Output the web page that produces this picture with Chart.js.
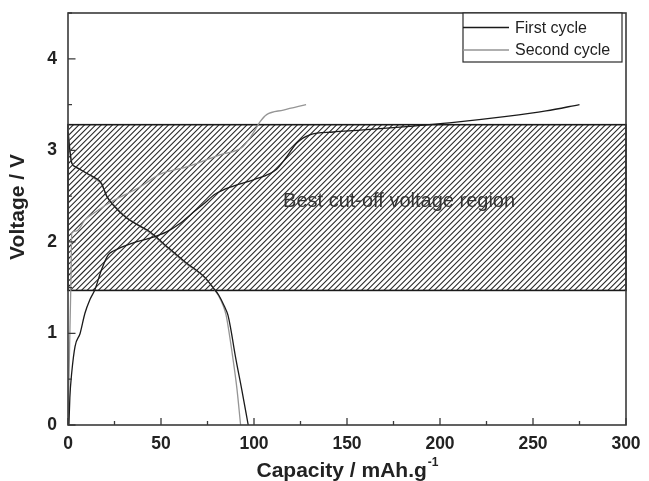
<!DOCTYPE html>
<html>
<head>
<meta charset="utf-8">
<script src="https://cdn.jsdelivr.net/npm/chart.js@4.4.1/dist/chart.umd.min.js"></script>
<style>
  html, body { margin: 0; padding: 0; background: #fff; }
  #wrap { width: 649px; height: 481px; position: relative; }
</style>
</head>
<body>
<div id="wrap"><canvas id="chart"></canvas></div>
<script>
// capacity (mAh/g), voltage (V)
const firstCharge = [
  [0.5, 0], [1, 0.3], [2, 0.57], [3.8, 0.86], [6.5, 1.0], [9.1, 1.22], [11.8, 1.37],
  [14.5, 1.48], [18.1, 1.7], [21.7, 1.86], [24.4, 1.9], [35.1, 1.99], [44, 2.04],
  [53, 2.11], [60.2, 2.2], [66, 2.3], [72.7, 2.41], [79, 2.52], [88.9, 2.61],
  [100, 2.68], [112, 2.79], [117.6, 2.93], [123, 3.08], [130, 3.17], [142.6, 3.2],
  [157, 3.22], [182, 3.26], [205, 3.3], [235.8, 3.37], [257, 3.43], [275, 3.5]
];
const firstDischarge = [
  [0, 3.2], [1, 3.0], [2, 2.86], [4, 2.82], [6.5, 2.79], [10, 2.75], [13.6, 2.71],
  [18, 2.64], [20.8, 2.5], [24.4, 2.4], [31.5, 2.26], [38, 2.18], [44, 2.11],
  [52, 1.97], [63, 1.78], [73.7, 1.61], [78, 1.5], [81, 1.42], [84, 1.3],
  [86, 1.2], [87.5, 1.05], [90, 0.75], [93.4, 0.39], [96.9, 0]
];
const secondCharge = [
  [0, 0], [0.6, 0.6], [1.2, 1.2], [1.6, 1.6], [2, 2.1], [4.7, 2.12], [9.1, 2.24],
  [15, 2.33], [22.6, 2.43], [38.7, 2.6], [49.5, 2.74], [63.8, 2.82], [71, 2.87],
  [81.7, 2.95], [94, 3.04], [99.6, 3.19], [103.2, 3.31], [106.8, 3.39],
  [115.8, 3.44], [128, 3.5]
];
const secondDischarge = [
  [0, 3.25], [1, 3.0], [2, 2.87], [4, 2.82], [6.5, 2.79], [10, 2.75], [13.6, 2.7],
  [18, 2.63], [20.8, 2.5], [24.4, 2.41], [31.5, 2.27], [38, 2.18], [44, 2.1],
  [52, 1.96], [63, 1.77], [73, 1.62], [78, 1.5], [81, 1.41], [83.5, 1.3],
  [85, 1.2], [86.3, 1.05], [88.5, 0.75], [90.8, 0.4], [92.8, 0]
];
const seriesNames = ['First cycle', 'Second cycle'];
const seriesColors = ['#1a1a1a', '#959595'];
const cutoffRegion = [1.47, 3.28];
const regionLabel = 'Best cut-off voltage region';
const regionLabelAt = [178, 2.385];

const xTitle = 'Capacity / mAh.g';
const xTitleSup = '-1';
const yTitle = 'Voltage / V';

const FONT = '"Liberation Sans", Arial, sans-serif';
const toXY = arr => arr.map(p => ({ x: p[0], y: p[1] }));

function lineSet(label, data, color) {
  return {
    label: label,
    data: toXY(data),
    borderColor: color,
    backgroundColor: color,
    borderWidth: 1.3,
    pointRadius: 0,
    cubicInterpolationMode: 'monotone',
    fill: false
  };
}

// hatched region, box, ticks, legend and axis titles
const decorations = {
  id: 'decorations',
  beforeDatasetsDraw(chart) {
    const { ctx, chartArea: a, scales: { x, y } } = chart;
    const top = y.getPixelForValue(cutoffRegion[1]);
    const bot = y.getPixelForValue(cutoffRegion[0]);
    ctx.save();
    ctx.beginPath();
    ctx.rect(a.left, top, a.right - a.left, bot - top);
    ctx.clip();
    ctx.strokeStyle = '#2a2a2a';
    ctx.lineWidth = 1.1;
    const h = bot - top;
    const step = 5.6;
    ctx.beginPath();
    for (let sx = a.left - h; sx < a.right + step; sx += step) {
      ctx.moveTo(sx, bot);
      ctx.lineTo(sx + h, top);
    }
    ctx.stroke();
    ctx.restore();

    ctx.save();
    ctx.strokeStyle = '#1a1a1a';
    ctx.lineWidth = 1.6;
    ctx.strokeRect(a.left, top, a.right - a.left, bot - top);
    ctx.fillStyle = '#333';
    ctx.font = '20px ' + FONT;
    ctx.textAlign = 'center';
    ctx.textBaseline = 'alphabetic';
    ctx.fillText(regionLabel, x.getPixelForValue(regionLabelAt[0]), y.getPixelForValue(regionLabelAt[1]));
    ctx.restore();
  },
  afterDraw(chart) {
    const { ctx, chartArea: a, scales: { x, y } } = chart;
    ctx.save();
    // frame
    ctx.strokeStyle = '#3a3a3a';
    ctx.lineWidth = 1.6;
    ctx.strokeRect(a.left, a.top, a.right - a.left, a.bottom - a.top);

    // inward ticks, majors and minors
    ctx.lineWidth = 1.3;
    ctx.beginPath();
    for (let v = 0; v <= 300; v += 25) {
      const px = x.getPixelForValue(v);
      const len = v % 50 === 0 ? 7 : 4;
      ctx.moveTo(px, a.bottom);
      ctx.lineTo(px, a.bottom - len);
    }
    for (let v = 0; v <= 4.5; v += 0.5) {
      const py = y.getPixelForValue(v);
      const len = Number.isInteger(v) ? 7.5 : 4;
      ctx.moveTo(a.left, py);
      ctx.lineTo(a.left + len, py);
    }
    ctx.stroke();

    // legend box
    const lx = 463, ly = a.top, lw = 159, lh = 49;
    ctx.fillStyle = '#fff';
    ctx.fillRect(lx, ly, lw, lh);
    ctx.strokeStyle = '#2a2a2a';
    ctx.lineWidth = 1.2;
    ctx.strokeRect(lx, ly, lw, lh);
    ctx.font = '16px ' + FONT;
    ctx.textBaseline = 'middle';
    ctx.textAlign = 'left';
    seriesNames.forEach((name, i) => {
      const ry = ly + 14.5 + i * 22.5;
      ctx.strokeStyle = seriesColors[i];
      ctx.lineWidth = 1.3;
      ctx.beginPath();
      ctx.moveTo(lx, ry);
      ctx.lineTo(lx + 46, ry);
      ctx.stroke();
      ctx.fillStyle = '#222';
      ctx.fillText(name, lx + 52, ry + 1);
    });

    // axis titles
    ctx.fillStyle = '#222';
    ctx.textBaseline = 'alphabetic';
    ctx.font = 'bold 21px ' + FONT;
    const mainW = ctx.measureText(xTitle).width;
    ctx.font = 'bold 12px ' + FONT;
    const supW = ctx.measureText(xTitleSup).width;
    const startX = 347 - (mainW + supW) / 2;
    ctx.font = 'bold 21px ' + FONT;
    ctx.fillText(xTitle, startX, 477);
    ctx.font = 'bold 12px ' + FONT;
    ctx.fillText(xTitleSup, startX + mainW + 1, 466);

    ctx.translate(24, 207);
    ctx.rotate(-Math.PI / 2);
    ctx.textAlign = 'center';
    ctx.font = 'bold 21px ' + FONT;
    ctx.fillText(yTitle, 0, 0);
    ctx.restore();
  }
};

const tickFont = { family: FONT, size: 17.5, weight: 'bold' };

new Chart(document.getElementById('chart'), {
  type: 'line',
  data: {
    datasets: [
      lineSet(seriesNames[0], firstCharge, seriesColors[0]),
      lineSet(seriesNames[0] + ' discharge', firstDischarge, seriesColors[0]),
      lineSet(seriesNames[1], secondCharge, seriesColors[1]),
      lineSet(seriesNames[1] + ' discharge', secondDischarge, seriesColors[1])
    ]
  },
  options: {
    responsive: true,
    maintainAspectRatio: false,
    animation: false,
    layout: { padding: { top: 13, right: 23, left: 0, bottom: 0 } },
    plugins: { legend: { display: false }, tooltip: { enabled: false } },
    scales: {
      x: {
        type: 'linear', min: 0, max: 300,
        afterFit: s => { s.height = 56; s.paddingLeft = 0; s.paddingRight = 0; },
        grid: { display: false, drawTicks: false },
        border: { display: false },
        ticks: { stepSize: 50, color: '#222', font: tickFont, padding: 9, maxRotation: 0 }
      },
      y: {
        type: 'linear', min: 0, max: 4.5,
        afterFit: s => { s.width = 68; s.paddingTop = 0; s.paddingBottom = 0; },
        grid: { display: false, drawTicks: false },
        border: { display: false },
        ticks: {
          stepSize: 0.5, color: '#222', font: tickFont, padding: 11,
          callback: v => Number.isInteger(v) ? v : ''
        }
      }
    }
  },
  plugins: [decorations]
});
</script>
</body>
</html>
